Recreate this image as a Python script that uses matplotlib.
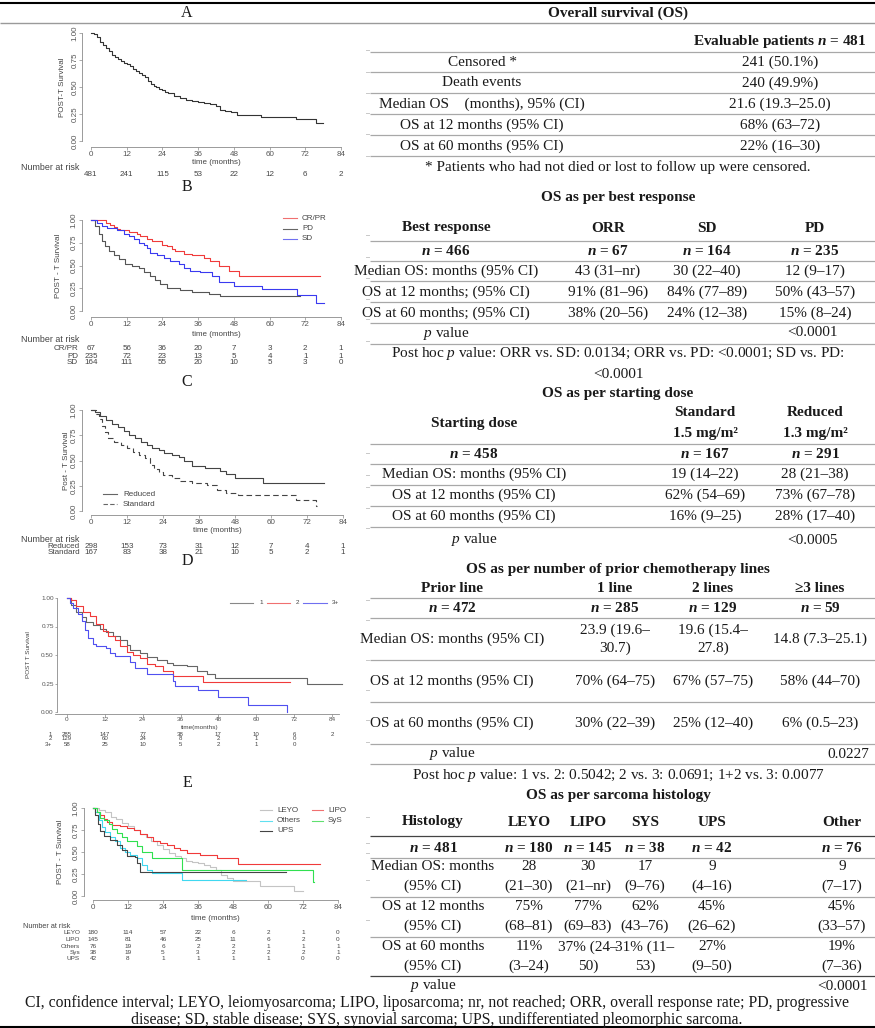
import matplotlib
matplotlib.use('Agg')
import matplotlib.pyplot as plt
from matplotlib.transforms import blended_transform_factory as btf

plt.rcParams['mathtext.fontset'] = 'custom'
plt.rcParams['mathtext.rm'] = 'Liberation Serif'
plt.rcParams['mathtext.it'] = 'Liberation Serif:italic'
plt.rcParams['mathtext.bf'] = 'Liberation Serif:bold'
try:
    plt.rcParams['mathtext.bfit'] = 'Liberation Serif:bold:italic'
    NB = r'$\mathbfit{n}$'
except Exception:
    NB = r'$\mathit{n}$'

# ---------------- data ----------------
time_ticks = [0, 12, 24, 36, 48, 60, 72, 84]
surv_ticks = [0.0, 0.25, 0.5, 0.75, 1.0]

# A overall
a_t = [0, 1, 2, 3, 4, 5, 6, 7, 8, 9, 10, 11, 12, 13, 14, 15, 16, 17, 18, 19, 20, 21, 22, 23, 24, 25, 26, 28, 30, 32,
       34, 36, 38, 40, 42, 43.5, 45, 47, 49, 57, 69, 75.5, 78]
a_s = [1.0, 0.99, 0.96, 0.92, 0.89, 0.86, 0.83, 0.80, 0.78, 0.76, 0.74, 0.72, 0.71, 0.69, 0.67, 0.65, 0.63, 0.61, 0.59,
       0.56, 0.53, 0.51, 0.50, 0.48, 0.47, 0.45, 0.44, 0.42, 0.40, 0.38, 0.37, 0.36, 0.35, 0.34, 0.32, 0.29, 0.28, 0.27,
       0.245, 0.225, 0.205, 0.165, 0.165]
a_risk = [481, 241, 115, 53, 22, 12, 6, 2]

# B best response
b_crpr_t = [0, 5.2, 6.5, 7.6, 8.7, 9.9, 12.7, 15.5, 16.6, 18.8, 20.5, 23.9, 25.5, 27.2, 28.3, 31.1, 33.9, 37.9, 40.1,
            42.9, 46.3, 49.6, 76.8]
b_crpr_s = [1.0, 0.97, 0.95, 0.92, 0.90, 0.89, 0.87, 0.85, 0.82, 0.79, 0.77, 0.73, 0.71, 0.68, 0.66, 0.63, 0.61, 0.58,
            0.55, 0.50, 0.44, 0.38, 0.38]
b_pd_t = [0, 1.5, 2.6, 3.7, 4.8, 5.9, 7.6, 9.3, 11.5, 13.8, 16.0, 17.7, 19.9, 21.6, 23.3, 25.5, 30, 33.9, 39.5, 43.5, 70.3]
b_pd_s = [1.0, 0.93, 0.85, 0.77, 0.71, 0.66, 0.62, 0.57, 0.52, 0.50, 0.47, 0.43, 0.38, 0.34, 0.30, 0.25, 0.23, 0.21,
          0.19, 0.16, 0.16]
b_sd_t = [0, 2, 3.7, 5.4, 8.7, 11, 12.7, 14.3, 16, 17.7, 18.8, 19.9, 22.2, 24.4, 26.7, 29.5, 31.1, 33.4, 36.7, 40.7,
          42.9, 47.9, 57.5, 69.2, 75.7, 78.2]
b_sd_s = [1.0, 0.97, 0.93, 0.91, 0.89, 0.85, 0.82, 0.79, 0.75, 0.72, 0.69, 0.64, 0.61, 0.58, 0.55, 0.52, 0.47, 0.44,
          0.43, 0.39, 0.32, 0.28, 0.24, 0.18, 0.09, 0.09]
b_groups = ['CR/PR', 'PD', 'SD']
b_risk = [[67, 56, 36, 20, 7, 3, 2, 1],
          [235, 72, 23, 13, 5, 4, 1, 1],
          [164, 111, 55, 20, 10, 5, 3, 0]]

# C starting dose
c_red_t = [0, 1.4, 3, 5, 7, 9, 11, 12.5, 14.5, 16.5, 18.5, 20.5, 22.5, 24.5, 27, 29.5, 31, 33.6, 38, 43, 45, 48, 57.4,
           77.6]
c_red_s = [1.0, 0.98, 0.94, 0.90, 0.86, 0.83, 0.79, 0.75, 0.72, 0.68, 0.65, 0.62, 0.60, 0.57, 0.55, 0.53, 0.50, 0.45,
           0.43, 0.40, 0.37, 0.33, 0.28, 0.28]
c_std_t = [0, 1.5, 2.5, 3.5, 4.5, 5.5, 7.5, 10, 12, 14, 16, 18, 19.7, 21, 22.5, 24, 27, 29.7, 33.6, 38.6, 42, 45, 49,
           68.5, 75, 75.5]
c_std_s = [1.0, 0.96, 0.91, 0.84, 0.78, 0.72, 0.68, 0.65, 0.62, 0.58, 0.55, 0.52, 0.46, 0.42, 0.39, 0.36, 0.33, 0.30,
           0.28, 0.26, 0.21, 0.18, 0.16, 0.105, 0.05, 0.05]
c_groups = ['Reduced', 'Standard']
c_risk = [[298, 153, 73, 31, 12, 7, 4, 1],
          [167, 83, 38, 21, 10, 5, 2, 1]]

# D prior lines
d1_t = [0, 1.4, 3, 4.6, 6.1, 8.3, 10.4, 12.5, 14.6, 16.7, 18.9, 19.9, 23.1, 25.2, 28.4, 31.6, 33.7, 37.9, 41.1, 44.3,
        46.9, 76, 87.2]
d1_s = [1.0, 0.94, 0.88, 0.83, 0.79, 0.76, 0.73, 0.70, 0.67, 0.63, 0.59, 0.54, 0.52, 0.48, 0.46, 0.43, 0.41, 0.40,
        0.36, 0.33, 0.30, 0.25, 0.25]
d2_t = [0, 1.4, 3, 5.1, 7.2, 9.3, 11.4, 13, 15.1, 16.7, 18.9, 21, 23.1, 25.2, 27.9, 30.5, 33.7, 43.2, 70.8]
d2_s = [1.0, 0.98, 0.93, 0.88, 0.84, 0.77, 0.71, 0.67, 0.63, 0.58, 0.53, 0.50, 0.47, 0.42, 0.40, 0.36, 0.32, 0.26, 0.26]
d3_t = [0, 0.8, 1.9, 3.5, 4.6, 5.6, 6.7, 8.3, 9.3, 12.5, 13.6, 15.1, 19.9, 21.5, 25.2, 33.7, 34.2, 41.6, 48, 57.5, 69.7]
d3_s = [1.0, 0.96, 0.91, 0.86, 0.80, 0.72, 0.65, 0.60, 0.58, 0.56, 0.52, 0.49, 0.44, 0.39, 0.33, 0.27, 0.23, 0.19,
        0.13, 0.06, 0.0]
d_groups = ['1', '2', '3+']
d_risk = [[285, 147, 77, 38, 17, 10, 6, 2],
          [129, 60, 24, 8, 2, 1, 0],
          [58, 25, 10, 5, 2, 1, 0]]

# E histology
e_leyo_t = [0, 2, 4, 6, 8, 10, 12, 14, 16, 18, 20, 22, 24, 26, 28, 30, 32, 34, 36, 38, 40, 42, 44, 46, 48, 57.2, 69, 72]
e_leyo_s = [1.0, 0.98, 0.95, 0.90, 0.87, 0.83, 0.79, 0.75, 0.71, 0.67, 0.63, 0.58, 0.53, 0.49, 0.46, 0.43, 0.40, 0.39,
            0.37, 0.35, 0.33, 0.29, 0.24, 0.20, 0.17, 0.11, 0.057, 0.057]
e_lipo_t = [0, 1.4, 2.5, 3.6, 4.8, 6.5, 9.3, 11.6, 13.9, 16.2, 18.5, 20.7, 23, 25.3, 27.6, 29.9, 32.1, 36.7, 42.4, 49.8,
            77.7]
e_lipo_s = [1.0, 0.96, 0.92, 0.87, 0.84, 0.81, 0.79, 0.77, 0.75, 0.71, 0.67, 0.63, 0.60, 0.58, 0.55, 0.52, 0.49, 0.47,
            0.43, 0.36, 0.36]
e_oth_t = [0, 0.8, 1.9, 3.1, 4.2, 5.9, 7.6, 9.3, 11, 12.8, 15, 16.8, 18.5, 20.2, 30.4, 52.6]
e_oth_s = [1.0, 0.95, 0.86, 0.78, 0.73, 0.67, 0.62, 0.55, 0.50, 0.47, 0.43, 0.35, 0.30, 0.26, 0.18, 0.18]
e_ups_t = [0, 0.8, 1.6, 2.5, 3.6, 5.9, 8.2, 9.9, 11.6, 14.5, 15, 16.2, 66.1]
e_ups_s = [1.0, 0.92, 0.82, 0.74, 0.68, 0.64, 0.58, 0.52, 0.46, 0.44, 0.38, 0.27, 0.27]
e_sys_t = [0, 1.4, 2.5, 3.6, 5.4, 6.5, 8.2, 9.9, 11.6, 15, 16.8, 20.2, 30.4, 75.5, 75.6]
e_sys_s = [1.0, 0.95, 0.89, 0.86, 0.82, 0.76, 0.72, 0.67, 0.62, 0.57, 0.50, 0.43, 0.30, 0.16, 0.16]
e_groups = ['LEYO', 'LIPO', 'Others', 'Sys', 'UPS']
e_risk = [[180, 114, 57, 22, 6, 2, 1, 0],
          [145, 81, 46, 25, 11, 6, 2, 0],
          [76, 19, 6, 2, 2, 1, 1, 1],
          [38, 19, 5, 3, 2, 2, 2, 1],
          [42, 8, 1, 1, 1, 1, 0, 0]]

# ---------------- figure ----------------
W, H = 875, 1028
fig = plt.figure(figsize=(W / 100, H / 100), dpi=100)
bg = fig.add_axes([0, 0, 1, 1])
bg.set_xlim(0, W)
bg.set_ylim(H, 0)
bg.axis('off')

SERIF = 'Liberation Serif'
SANS = 'Liberation Sans'
FS = 11
TXT = '#1a1a1a'


def T(x, y, s, ha='center', size=FS, weight='normal', family=SERIF, color=TXT, rot=0, va='center'):
    bg.text(x, y, s, ha=ha, va=va, fontsize=size, fontweight=weight, family=family, color=color, rotation=rot)


def R(y, x0=370, x1=875, color='#a8a8a8', lw=0.9):
    bg.plot([x0, x1], [y, y], color=color, lw=lw, solid_capstyle='butt')


def edge_ticks(ys):
    # faint cut-off tick marks visible at the right edge of each plot image
    for y in ys:
        bg.plot([365.5, 368.5], [y, y], color='#c8c8c8', lw=0.7)


def km_axes(x0, x84, y1, y0, xgap, ygap, ylabel, ylab_x, rot_labels=True, tsize=5.8, xb=(0, 84), pad=1.0, tl=2.2):
    ax = fig.add_axes([x0 / W, 1 - y0 / H, (x84 - x0) / W, (y0 - y1) / H])
    ax.set_xlim(0, 84)
    ax.set_ylim(0, 1)
    ax.patch.set_alpha(0)
    for s in ['top', 'right']:
        ax.spines[s].set_visible(False)
    ax.spines['left'].set_position(('outward', ygap * 0.72))
    ax.spines['bottom'].set_position(('outward', xgap * 0.72))
    ax.spines['left'].set_bounds(0, 1)
    ax.spines['bottom'].set_bounds(*xb)
    for s in ['left', 'bottom']:
        ax.spines[s].set_color('#8a8a8a')
        ax.spines[s].set_linewidth(0.6)
    ax.set_xticks(time_ticks)
    ax.set_yticks(surv_ticks)
    ax.set_yticklabels(['%.2f' % v for v in surv_ticks])
    ax.tick_params(axis='both', length=tl, width=0.5, color='#8a8a8a', labelsize=tsize, labelcolor='#555555', pad=pad)
    if rot_labels:
        for lab in ax.get_yticklabels():
            lab.set_rotation(90)
            lab.set_va('center')
    for lab in ax.get_xticklabels() + ax.get_yticklabels():
        lab.set_family(SANS)
    T(ylab_x, (y0 + y1) / 2, ylabel, family=SANS, size=tsize, color='#444444', rot=90)
    return ax


def risk_table(ax, rows, labels, ys, label_x, size=5.8, nar_y=None, nar_x=21):
    tr = btf(ax.transData, bg.transData)
    if nar_y is not None:
        T(nar_x, nar_y, 'Number at risk', ha='left', family=SANS, size=size + 0.6, color='#444444')
    for row, lab, y in zip(rows, labels, ys):
        if lab:
            T(label_x, y, lab, ha='right', family=SANS, size=size, color='#444444')
        for t, v in zip(time_ticks, row):
            ax.text(t, y, str(v), transform=tr, ha='center', va='center', fontsize=size, family=SANS,
                    color='#444444')


def steps(ax, t, s, color, ls='-', lw=0.8):
    ax.step(t, s, where='post', color=color, lw=lw, ls=ls, clip_on=False)


def legend_line(x0, x1, y, color, label, size=5.8, ls='-', lx=None):
    bg.plot([x0, x1], [y, y], color=color, lw=0.8, ls=ls)
    T(lx if lx is not None else x1 + 5, y, label, ha='left', family=SANS, size=size, color='#444444')


# ---- frame rules ----
R(3, 0, 875, color='black', lw=1.5)
R(23, 0, 875, color='#9a9a9a', lw=1.0)
R(1026.5, 0, 875, color='black', lw=1.5)

# ---- panel letters ----
for letter, y in zip('ABCDE', [13, 187, 382, 561, 783]):
    T(187, y, letter, size=11.5)

# ================= A =================
axA = km_axes(91, 341, 33, 141, 6, 9, 'POST-T Survival', 63, pad=0.6, tl=2.0)
steps(axA, a_t, a_s, '#333333')
T(216, 162.5, 'time (months)', family=SANS, size=5.8, color='#444444')
risk_table(axA, [a_risk], [''], [174.5], 80, nar_y=167)
edge_ticks([50, 72, 93, 113, 134, 156])

T(618, 13, 'Overall survival (OS)', weight='bold')
T(780, 41, 'Evaluable patients ' + NB + ' = 481', weight='bold')
a_rows = ['Censored *', 'Death events', 'Median OS    (months), 95% (CI)', 'OS at 12 months (95% CI)',
          'OS at 60 months (95% CI)']
a_vals = ['241 (50.1%)', '240 (49.9%)', '21.6 (19.3–25.0)', '68% (63–72)', '22% (16–30)']
for i, (r, v) in enumerate(zip(a_rows, a_vals)):
    y = 62 + 21 * i
    T(482, y, r)
    T(780, y, v)
for y in [52, 72, 93, 114, 135, 156]:
    R(y)
T(618, 167, '* Patients who had not died or lost to follow up were censored.')

# ================= B =================
axB = km_axes(91, 341, 220, 311, 6, 9, 'POST - T Survival', 58, pad=0.8)
steps(axB, b_crpr_t, b_crpr_s, '#f03a3a')
steps(axB, b_pd_t, b_pd_s, '#555555')
steps(axB, b_sd_t, b_sd_s, '#3a3af0')
T(216, 334, 'time (months)', family=SANS, size=5.8, color='#444444')
risk_table(axB, b_risk, b_groups, [348, 356, 363], 78, nar_y=340)
legend_line(283, 297, 218, '#f07070', 'CR/PR')
legend_line(283, 297, 229, '#666666', 'PD')
legend_line(283, 297, 239, '#7070f0', 'SD')
edge_ticks([235, 257, 278, 299, 319, 341])

T(618, 198, 'OS as per best response', weight='bold')
bx = [446, 608, 707, 815]
for x, s in zip(bx, ['Best response', 'ORR', 'SD', 'PD']):
    T(x, 228, s, weight='bold')
for x, s in zip(bx, ['466', '67', '164', '235']):
    T(x, 251, NB + ' = ' + s, weight='bold')
b_rows = [['Median OS: months (95% CI)', '43 (31–nr)', '30 (22–40)', '12 (9–17)'],
          ['OS at 12 months; (95% CI)', '91% (81–96)', '84% (77–89)', '50% (43–57)'],
          ['OS at 60 months; (95% CI)', '38% (20–56)', '24% (12–38)', '15% (8–24)']]
for i, row in enumerate(b_rows):
    for x, s in zip(bx, row):
        T(x, 271 + 21 * i, s)
T(446, 333, r'$\mathit{p}$ value')
T(813, 333, '<0.0001')
for y in [241, 261, 281, 302, 323, 344]:
    R(y)
T(618, 354, r'Post hoc $\mathit{p}$ value: ORR vs. SD: 0.0134; ORR vs. PD: <0.0001; SD vs. PD:')
T(618, 374, '<0.0001')

# ================= C =================
axC = km_axes(91, 343, 410, 511, 4, 9, 'Post - T Survival', 66, pad=0.8)
steps(axC, c_red_t, c_red_s, '#444444')
steps(axC, c_std_t, c_std_s, '#444444', ls=(0, (5, 3)))
T(217, 531, 'time (months)', family=SANS, size=5.8, color='#444444')
risk_table(axC, c_risk, c_groups, [546, 553], 80, nar_y=539)
legend_line(103, 117, 494, '#666666', 'Reduced', lx=123)
legend_line(103, 117, 504, '#666666', 'Standard', ls=(0, (4, 2)), lx=123)
edge_ticks([453, 475, 487, 508, 528])

T(618, 393, 'OS as per starting dose', weight='bold')
T(474, 423, 'Starting dose', weight='bold')
T(705, 412, 'Standard', weight='bold')
T(705, 434, '1.5 mg/m²', weight='bold')
T(815, 412, 'Reduced', weight='bold')
T(815, 434, '1.3 mg/m²', weight='bold')
cx = [474, 705, 815]
for x, s in zip(cx, ['458', '167', '291']):
    T(x, 454, NB + ' = ' + s, weight='bold')
c_rows = [['Median OS: months (95% CI)', '19 (14–22)', '28 (21–38)'],
          ['OS at 12 months (95% CI)', '62% (54–69)', '73% (67–78)'],
          ['OS at 60 months (95% CI)', '16% (9–25)', '28% (17–40)']]
for i, row in enumerate(c_rows):
    for x, s in zip(cx, row):
        T(x, 474 + 21 * i, s)
T(474, 540, r'$\mathit{p}$ value')
T(813, 541, '<0.0005')
for y in [444, 464, 485, 506, 527]:
    R(y)

# ================= D =================
axD = km_axes(67, 332, 598, 712, 2, 10, 'POST T Survival', 29, rot_labels=False, tsize=4.6, xb=(-3.8, 86.2),
              pad=0.5, tl=1.8)
steps(axD, d1_t, d1_s, '#666666')
steps(axD, d2_t, d2_s, '#f03a3a')
steps(axD, d3_t, d3_s, '#5050f0')
T(200, 727, 'time(months)', family=SANS, size=4.6, color='#444444')
risk_table(axD, d_risk, d_groups, [734, 739, 744], 52, size=4.4)
legend_line(230, 253, 603, '#888888', '1', size=4.6, lx=259)
legend_line(267, 290, 603, '#f07070', '2', size=4.6, lx=296)
legend_line(303, 327, 603, '#7070f0', '3+', size=4.6, lx=332)
edge_ticks([600, 620, 660, 690, 720, 742])

T(618, 570, 'OS as per number of prior chemotherapy lines', weight='bold')
dx = [452, 615, 713, 820]
for x, s in zip(dx, ['Prior line', '1 line', '2 lines', '≥3 lines']):
    T(x, 588, s, weight='bold')
for x, s in zip(dx, ['472', '285', '129', '59']):
    T(x, 608, NB + ' = ' + s, weight='bold')
T(452, 639, 'Median OS: months (95% CI)')
T(615, 630, '23.9 (19.6–')
T(615, 648, '30.7)')
T(713, 630, '19.6 (15.4–')
T(713, 648, '27.8)')
T(820, 639, '14.8 (7.3–25.1)')
d_rows = [['OS at 12 months (95% CI)', '70% (64–75)', '67% (57–75)', '58% (44–70)'],
          ['OS at 60 months (95% CI)', '30% (22–39)', '25% (12–40)', '6% (0.5–23)']]
for i, row in enumerate(d_rows):
    for x, s in zip(dx, row):
        T(x, 681 + 42 * i, s)
T(452, 754, r'$\mathit{p}$ value')
T(848, 754, '0.0227')
for y in [598, 618, 660, 702, 744, 764]:
    R(y)
T(618, 775, r'Post hoc $\mathit{p}$ value: 1 vs. 2: 0.5042; 2 vs. 3: 0.0691; 1+2 vs. 3: 0.0077')

# ================= E =================
axE = km_axes(93, 338, 808, 896, 4, 9, 'POST - T Survival', 61, pad=0.8)
steps(axE, e_leyo_t, e_leyo_s, '#c4c4c4')
steps(axE, e_lipo_t, e_lipo_s, '#f03a3a')
steps(axE, e_oth_t, e_oth_s, '#40d8f0')
steps(axE, e_ups_t, e_ups_s, '#444444')
steps(axE, e_sys_t, e_sys_s, '#30e050')
T(215, 918, 'time (months)', family=SANS, size=5.8, color='#444444')
risk_table(axE, e_risk, e_groups, [933, 939.5, 946, 952.5, 959], 80, size=4.6, nar_y=926, nar_x=23)
legend_line(260, 272, 810, '#c4c4c4', 'LEYO', lx=277)
legend_line(312, 323, 810, '#f07070', 'LIPO', lx=328)
legend_line(260, 272, 821, '#60e0f0', 'Others', lx=277)
legend_line(312, 323, 821, '#60e070', 'SyS', lx=328)
legend_line(260, 272, 831, '#444444', 'UPS', lx=277)
edge_ticks([817, 843, 853, 880, 920])

T(618, 795, 'OS as per sarcoma histology', weight='bold')
ex = [433, 529, 588, 645, 712, 842]
for x, s in zip(ex, ['Histology', 'LEYO', 'LIPO', 'SYS', 'UPS', 'Other']):
    T(x, 822, s, weight='bold')
for x, s in zip(ex, ['481', '180', '145', '38', '42', '76']):
    T(x, 848, NB + ' = ' + s, weight='bold')
e_rows = [[('Median OS: months', '(95% CI)'), ('28', '(21–30)'), ('30', '(21–nr)'), ('17', '(9–76)'),
           ('9', '(4–16)'), ('9', '(7–17)')],
          [('OS at 12 months', '(95% CI)'), ('75%', '(68–81)'), ('77%', '(69–83)'), ('62%', '(43–76)'),
           ('45%', '(26–62)'), ('45%', '(33–57)')],
          [('OS at 60 months', '(95% CI)'), ('11%', '(3–24)'), ('37% (24–', '50)'), ('31% (11–', '53)'),
           ('27%', '(9–50)'), ('19%', '(7–36)')]]
for i, row in enumerate(e_rows):
    y = 867 + 40 * i
    for x, (s1, s2) in zip(ex, row):
        T(x, y, s1)
        T(x, y + 19, s2)
R(836, color='#444444')
for y in [858, 897, 937]:
    R(y)
R(976, color='#444444')
T(433, 986, r'$\mathit{p}$ value')
T(843, 986, '<0.0001')
T(437, 1003, 'CI, confidence interval; LEYO, leiomyosarcoma; LIPO, liposarcoma; nr, not reached; ORR, overall response rate; PD, progressive', size=11.3)
T(437, 1020, 'disease; SD, stable disease; SYS, synovial sarcoma; UPS, undifferentiated pleomorphic sarcoma.', size=11.3)

fig.savefig('out.png', dpi=100)
